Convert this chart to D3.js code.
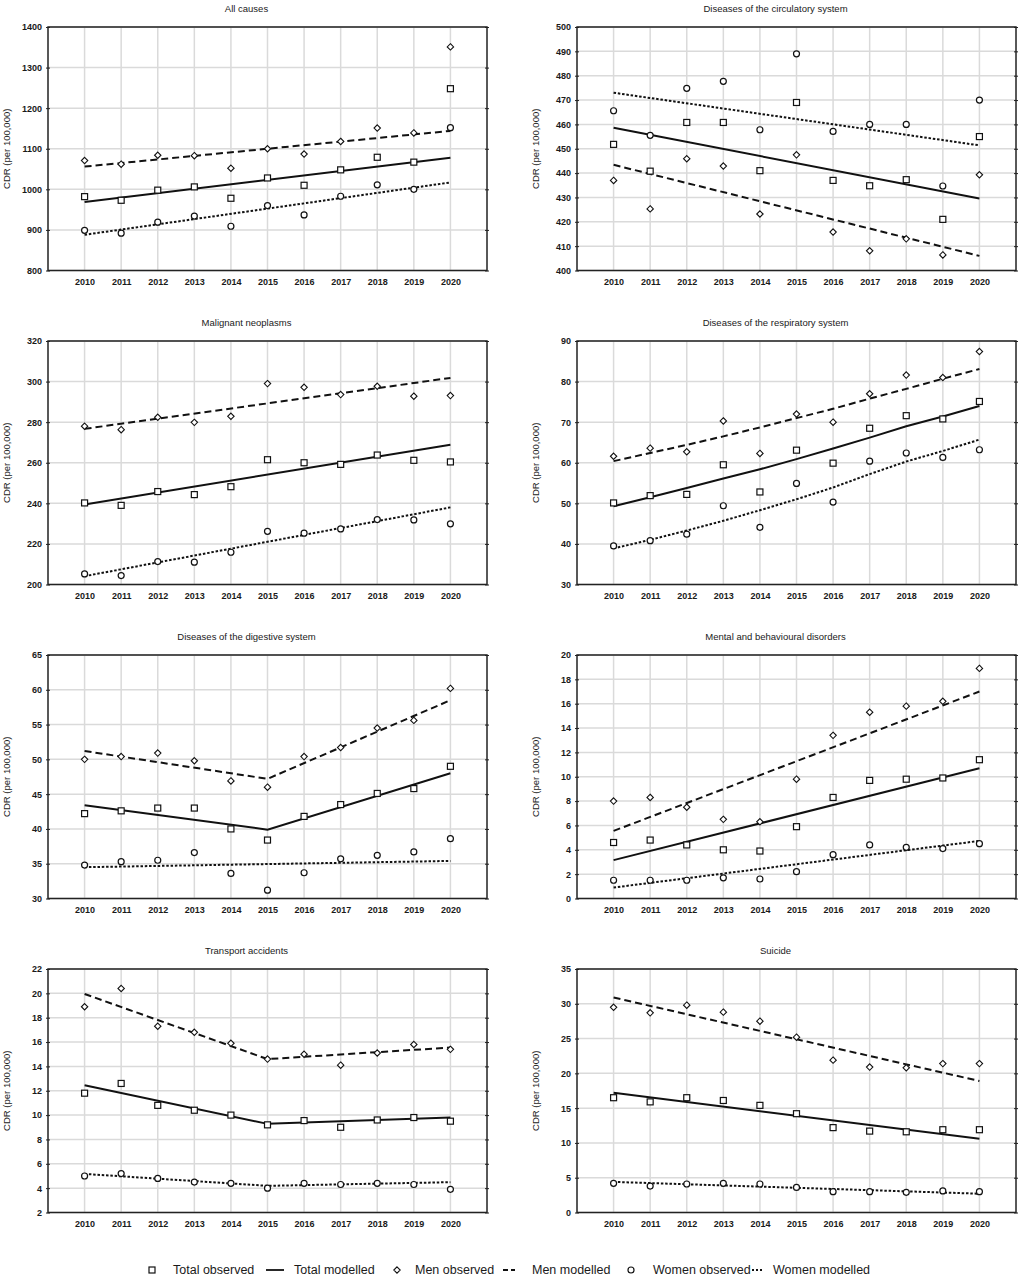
<!DOCTYPE html>
<html>
<head>
<meta charset="utf-8">
<script src="https://cdn.jsdelivr.net/npm/d3@7"></script>
<style>
body { margin: 0; background: #fff; }
text { font-family: "Liberation Sans", Arial, sans-serif; fill: #1a1a1a; }
</style>
</head>
<body>
<svg id="chart" width="1021" height="1285"></svg>
<script>
var years = [2010, 2011, 2012, 2013, 2014, 2015, 2016, 2017, 2018, 2019, 2020];

var titles = ["All causes", "Diseases of the circulatory system", "Malignant neoplasms",
	"Diseases of the respiratory system", "Diseases of the digestive system",
	"Mental and behavioural disorders", "Transport accidents", "Suicide"];
var yDomains = [[800, 1400], [400, 500], [200, 320], [30, 90], [30, 65], [0, 20], [2, 22], [0, 35]];
var ySteps = [100, 10, 20, 10, 5, 2, 2, 5];

// observed CDR per 100,000
var allTotal = [982, 973, 998, 1006, 978, 1028, 1010, 1048, 1079, 1067, 1248];
var allMen = [1071, 1062, 1084, 1083, 1052, 1100, 1087, 1118, 1151, 1139, 1351];
var allWomen = [899, 892, 919, 934, 909, 960, 937, 983, 1011, 1000, 1152];

var circTotal = [451.8, 440.8, 460.8, 460.8, 441, 469, 437, 434.8, 437.3, 421, 455];
var circMen = [437, 425.3, 445.9, 442.9, 423.2, 447.5, 415.8, 408.1, 413, 406.4, 439.3];
var circWomen = [465.6, 455.5, 474.8, 477.7, 457.8, 489, 457.1, 460, 460, 434.7, 470];

var neoTotal = [240.2, 239, 245.8, 244.3, 248.2, 261.5, 260, 259.2, 263.8, 261.2, 260.4];
var neoMen = [278, 276.3, 282.4, 279.9, 282.9, 299, 297.2, 293.6, 297.7, 292.8, 293.1];
var neoWomen = [205.2, 204.4, 211.3, 211, 215.9, 226.2, 225.3, 227.4, 232, 231.8, 229.9];

var respTotal = [50.1, 51.9, 52.2, 59.5, 52.8, 63.1, 59.9, 68.5, 71.6, 70.8, 75.1];
var respMen = [61.6, 63.6, 62.7, 70.3, 62.3, 72, 70, 77, 81.6, 81, 87.4];
var respWomen = [39.5, 40.8, 42.4, 49.4, 44.1, 54.9, 50.3, 60.4, 62.4, 61.3, 63.2];

var digTotal = [42.2, 42.6, 43, 43, 40, 38.4, 41.8, 43.5, 45.1, 45.8, 49];
var digMen = [50, 50.4, 50.9, 49.8, 46.9, 46, 50.4, 51.7, 54.5, 55.6, 60.2];
var digWomen = [34.8, 35.3, 35.5, 36.6, 33.6, 31.2, 33.7, 35.7, 36.2, 36.7, 38.6];

var mentTotal = [4.6, 4.8, 4.4, 4, 3.9, 5.9, 8.3, 9.7, 9.8, 9.9, 11.4];
var mentMen = [8, 8.3, 7.5, 6.5, 6.3, 9.8, 13.4, 15.3, 15.8, 16.2, 18.9];
var mentWomen = [1.5, 1.5, 1.5, 1.7, 1.6, 2.2, 3.6, 4.4, 4.2, 4.1, 4.5];

var tranTotal = [11.8, 12.6, 10.8, 10.4, 10, 9.2, 9.55, 9, 9.6, 9.8, 9.5];
var tranMen = [18.9, 20.4, 17.3, 16.8, 15.9, 14.6, 15, 14.1, 15.1, 15.8, 15.4];
var tranWomen = [5, 5.2, 4.8, 4.5, 4.4, 4, 4.4, 4.3, 4.4, 4.3, 3.9];

var suiTotal = [16.5, 15.9, 16.5, 16.1, 15.4, 14.2, 12.2, 11.7, 11.6, 11.9, 11.9];
var suiMen = [29.5, 28.7, 29.8, 28.8, 27.5, 25.2, 21.9, 20.9, 20.8, 21.4, 21.4];
var suiWomen = [4.2, 3.8, 4.1, 4.2, 4.1, 3.6, 3.0, 3.0, 2.9, 3.1, 3.0];

// modelled trends, [year, value] at ends and joinpoints
var allTotalFit = [[2010, 969], [2020, 1078]];
var allMenFit = [[2010, 1056], [2020, 1144]];
var allWomenFit = [[2010, 888], [2020, 1017]];

var circTotalFit = [[2010, 458.6], [2020, 429.6]];
var circMenFit = [[2010, 443.4], [2020, 406]];
var circWomenFit = [[2010, 473], [2020, 451.4]];

var neoTotalFit = [[2010, 239.4], [2020, 268.9]];
var neoMenFit = [[2010, 276.7], [2020, 301.8]];
var neoWomenFit = [[2010, 204.1], [2020, 238]];

var respTotalFit = [[2010, 49.3], [2011, 51.5], [2012, 53.8], [2013, 56.1], [2014, 58.4], [2015, 60.9],
	[2016, 63.5], [2017, 66.2], [2018, 69], [2019, 71.4], [2020, 74]];
var respMenFit = [[2010, 60.4], [2011, 62.4], [2012, 64.4], [2013, 66.5], [2014, 68.7], [2015, 71],
	[2016, 73.3], [2017, 75.8], [2018, 78.2], [2019, 80.7], [2020, 83.1]];
var respWomenFit = [[2010, 38.9], [2011, 41], [2012, 43.3], [2013, 45.7], [2014, 48.3], [2015, 51],
	[2016, 53.9], [2017, 57.2], [2018, 60.3], [2019, 62.9], [2020, 65.7]];

var digTotalFit = [[2010, 43.4], [2015, 39.9], [2020, 48]];
var digMenFit = [[2010, 51.2], [2015, 47.2], [2020, 58.5]];
var digWomenFit = [[2010, 34.5], [2020, 35.4]];

var mentTotalFit = [[2010, 3.15], [2020, 10.7]];
var mentMenFit = [[2010, 5.55], [2020, 17]];
var mentWomenFit = [[2010, 0.9], [2020, 4.73]];

var tranTotalFit = [[2010, 12.45], [2015, 9.28], [2020, 9.8]];
var tranMenFit = [[2010, 19.95], [2015, 14.6], [2020, 15.55]];
var tranWomenFit = [[2010, 5.17], [2015, 4.19], [2020, 4.49]];

var suiTotalFit = [[2010, 17.2], [2020, 10.6]];
var suiMenFit = [[2010, 30.9], [2020, 18.9]];
var suiWomenFit = [[2010, 4.4], [2020, 2.7]];

var legendLabels = ["Total observed", "Total modelled", "Men observed", "Men modelled", "Women observed", "Women modelled"];

var panels = [
	[allTotal, allMen, allWomen, allTotalFit, allMenFit, allWomenFit],
	[circTotal, circMen, circWomen, circTotalFit, circMenFit, circWomenFit],
	[neoTotal, neoMen, neoWomen, neoTotalFit, neoMenFit, neoWomenFit],
	[respTotal, respMen, respWomen, respTotalFit, respMenFit, respWomenFit],
	[digTotal, digMen, digWomen, digTotalFit, digMenFit, digWomenFit],
	[mentTotal, mentMen, mentWomen, mentTotalFit, mentMenFit, mentWomenFit],
	[tranTotal, tranMen, tranWomen, tranTotalFit, tranMenFit, tranWomenFit],
	[suiTotal, suiMen, suiWomen, suiTotalFit, suiMenFit, suiWomenFit]
];

var svg = d3.select("#chart");

var colLeft = [48, 577], plotW = 439;
var rowTop = 27, rowGap = 314, plotH = 243.5;

var lineStyles = [
	{dash: null, width: 2},
	{dash: "7,4", width: 2},
	{dash: "2.5,1.8", width: 2}
];

function drawMarker(g, kind, x, y) {
	if (kind === 0) {
		g.append("rect").attr("x", x - 3).attr("y", y - 3).attr("width", 6).attr("height", 6)
			.attr("fill", "#fff").attr("stroke", "#111").attr("stroke-width", 1.2);
	} else if (kind === 1) {
		var s = 3.2;
		g.append("path").attr("d", "M" + x + "," + (y - s) + "L" + (x + s) + "," + y + "L" + x + "," + (y + s) + "L" + (x - s) + "," + y + "Z")
			.attr("fill", "#fff").attr("stroke", "#111").attr("stroke-width", 1.1);
	} else {
		g.append("circle").attr("cx", x).attr("cy", y).attr("r", 3)
			.attr("fill", "#fff").attr("stroke", "#111").attr("stroke-width", 1.2);
	}
}

function drawPanel(i) {
	var left = colLeft[i % 2];
	var top = rowTop + rowGap * Math.floor(i / 2);
	var g = svg.append("g").attr("transform", "translate(" + left + "," + top + ")");

	var x = d3.scaleLinear().domain([2009, 2021]).range([0, plotW]);
	var y = d3.scaleLinear().domain(yDomains[i]).range([plotH, 0]);
	var yTicks = d3.range(yDomains[i][0], yDomains[i][1] + ySteps[i] / 2, ySteps[i]);

	// grid
	g.append("g").selectAll("line").data(years).enter().append("line")
		.attr("x1", function(d) { return x(d); }).attr("x2", function(d) { return x(d); })
		.attr("y1", 0).attr("y2", plotH)
		.attr("stroke", "#dadada").attr("stroke-width", 1.5);
	g.append("g").selectAll("line").data(yTicks).enter().append("line")
		.attr("x1", 0).attr("x2", plotW)
		.attr("y1", function(d) { return y(d); }).attr("y2", function(d) { return y(d); })
		.attr("stroke", "#dadada").attr("stroke-width", 1.5);

	// axes
	var yAxis = g.append("g").call(d3.axisLeft(y).tickValues(yTicks).tickSize(3).tickPadding(3).tickFormat(d3.format("d")));
	var yAxisR = g.append("g").attr("transform", "translate(" + plotW + ",0)")
		.call(d3.axisRight(y).tickValues(yTicks).tickSize(3).tickFormat(""));
	var xAxis = g.append("g").attr("transform", "translate(0," + plotH + ")")
		.call(d3.axisBottom(x).tickValues(years).tickSize(0).tickPadding(8).tickFormat(d3.format("d")));
	[yAxis, yAxisR, xAxis].forEach(function(a) {
		a.select(".domain").remove();
		a.selectAll("line").attr("stroke", "#222");
		a.selectAll("text").style("font-size", "9px").style("font-weight", "bold").attr("fill", "#222");
	});
	yAxis.selectAll("line").attr("x1", 2).attr("x2", -2);
	yAxisR.selectAll("line").attr("x1", -2).attr("x2", 2);

	g.append("rect").attr("width", plotW).attr("height", plotH)
		.attr("fill", "none").attr("stroke", "#222").attr("stroke-width", 1.5);

	// titles
	g.append("text").attr("x", plotW / 2 - 21).attr("y", -15)
		.attr("text-anchor", "middle").style("font-size", "9.5px").text(titles[i]);
	g.append("text").attr("transform", "translate(-38," + (plotH / 2) + ") rotate(-90)")
		.attr("text-anchor", "middle").style("font-size", "9.5px").text("CDR (per 100,000)");

	var p = panels[i];
	var line = d3.line().x(function(d) { return x(d[0]); }).y(function(d) { return y(d[1]); });

	// modelled lines
	for (var k = 0; k < 3; k++) {
		g.append("path").datum(p[k + 3])
			.attr("d", line)
			.attr("fill", "none")
			.attr("stroke", "#111")
			.attr("stroke-width", lineStyles[k].width)
			.attr("stroke-dasharray", lineStyles[k].dash);
	}

	// observed points
	for (var s = 0; s < 3; s++) {
		var mg = g.append("g");
		p[s].forEach(function(v, j) {
			drawMarker(mg, s, x(years[j]), y(v));
		});
	}
}

for (var i = 0; i < panels.length; i++) drawPanel(i);

// legend
var legendX = [152, 266, 397, 503, 631, 752];
var textX = [173, 294, 415, 532, 653, 773];
var ly = 1274;
var lg = svg.append("g");
legendLabels.forEach(function(label, i) {
	var k = Math.floor(i / 2);
	if (i % 2 === 0) {
		drawMarker(lg, k, legendX[i], ly - 4);
	} else {
		lg.append("line").attr("x1", legendX[i]).attr("x2", legendX[i] + (k === 0 ? 18 : 12))
			.attr("y1", ly - 4).attr("y2", ly - 4)
			.attr("stroke", "#111").attr("stroke-width", 1.8)
			.attr("stroke-dasharray", k === 1 ? "5,3" : (k === 2 ? "2,2" : null));
	}
	lg.append("text").attr("x", textX[i]).attr("y", ly).style("font-size", "12.5px").text(label);
});
</script>
</body>
</html>
